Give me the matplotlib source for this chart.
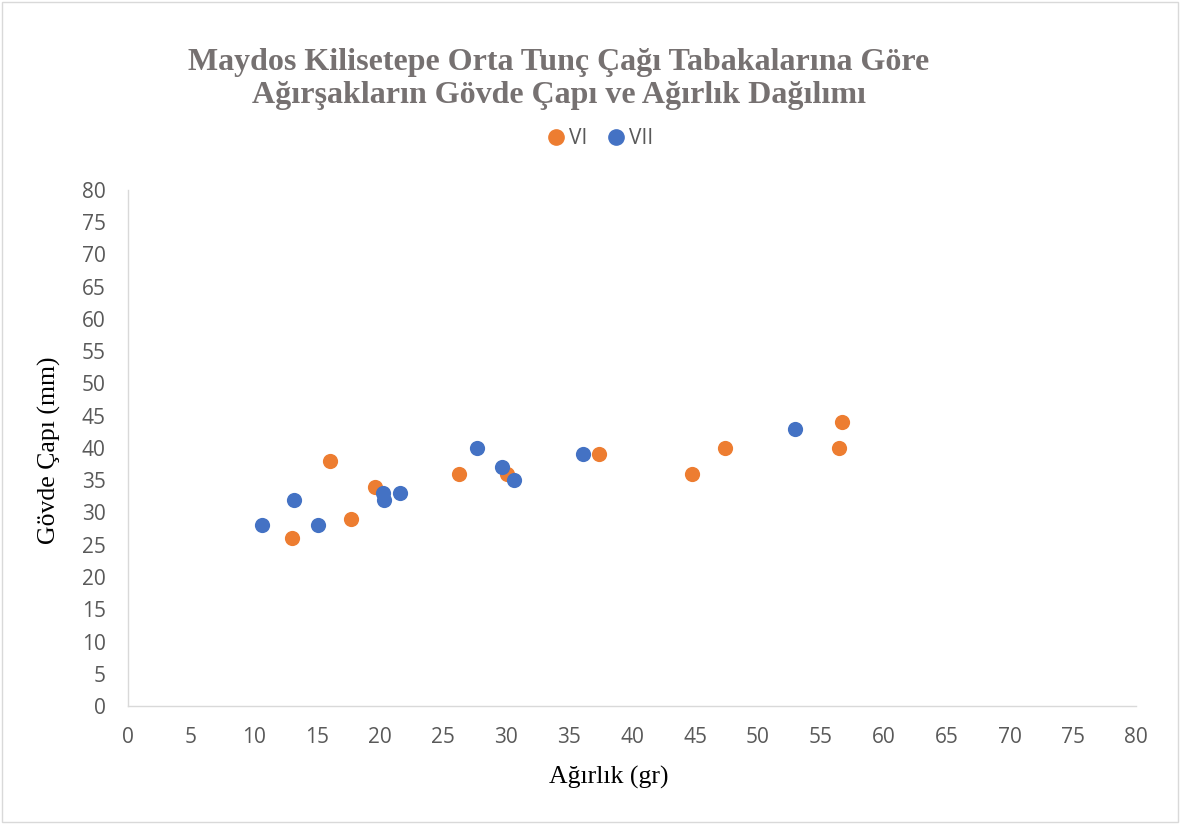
import matplotlib
matplotlib.use("Agg")
import matplotlib.pyplot as plt
from matplotlib.lines import Line2D
from matplotlib.patches import Rectangle

vi_weight = [13, 16, 17.7, 19.6, 26.3, 30.1, 37.4, 44.8, 47.4, 56.4, 56.7]
vi_diam = [26, 38, 29, 34, 36, 36, 39, 36, 40, 40, 44]
vii_weight = [10.6, 13.2, 15.1, 20.2, 20.3, 21.6, 27.7, 29.7, 30.6, 36.1, 52.9]
vii_diam = [28, 32, 28, 33, 32, 33, 40, 37, 35, 39, 43]
ticks = list(range(0, 85, 5))

title = "Maydos Kilisetepe Orta Tunç Çağı Tabakalarına Göre\nAğırşakların Gövde Çapı ve Ağırlık Dağılımı"
xlabel = "Ağırlık (gr)"
ylabel = "Gövde Çapı (mm)"

orange = "#ED7D31"
blue = "#4472C4"
gray = "#595959"

fig = plt.figure(figsize=(11.8, 8.24), dpi=100)
fig.patches.append(Rectangle((0.002, 0.002), 0.996, 0.996, transform=fig.transFigure,
                             fill=False, edgecolor="#d9d9d9", linewidth=1))
ax = fig.add_axes([128/1180, 1-706/824, (1136-128)/1180, (706-190)/824])

ax.scatter(vi_weight, vi_diam, s=120, color=orange, zorder=3, linewidths=0)
ax.scatter(vii_weight, vii_diam, s=120, color=blue, zorder=4, linewidths=0)

ax.set_xlim(0, 80)
ax.set_ylim(0, 80)
ax.set_xticks(ticks)
ax.set_yticks(ticks)
ax.tick_params(length=0, labelsize=15, labelcolor=gray)
ax.tick_params(axis="y", pad=16)
ax.tick_params(axis="x", pad=15)
for lab in ax.get_xticklabels() + ax.get_yticklabels():
    lab.set_family("Open Sans")
for s in ["top", "right"]:
    ax.spines[s].set_visible(False)
for s in ["left", "bottom"]:
    ax.spines[s].set_color("#d9d9d9")
    ax.spines[s].set_linewidth(1)

fig.text(609/1180, 1-777/824, xlabel, ha="center", va="center", family="Liberation Serif",
         fontsize=18.5, color="black")
fig.text(49/1180, 1-450/824, ylabel, ha="center", va="center", rotation=90,
         family="Liberation Serif", fontsize=18.5, color="black")

fig.text(559/1180, 1-79/824, title, ha="center", va="center", family="Liberation Serif",
         fontweight="bold", fontsize=23, color="#767171", linespacing=1.2)

handles = [Line2D([], [], marker="o", linestyle="", color=orange, markersize=11, label="VI"),
           Line2D([], [], marker="o", linestyle="", color=blue, markersize=11, label="VII")]
fig.legend(handles=handles, loc="center", bbox_to_anchor=(597/1180, 1-139/824), ncol=2,
           frameon=False, handletextpad=-0.1, columnspacing=0.6, handlelength=1.5,
           prop={"family": "Open Sans", "size": 15}, labelcolor=gray)

fig.savefig("out.png", dpi=100)
